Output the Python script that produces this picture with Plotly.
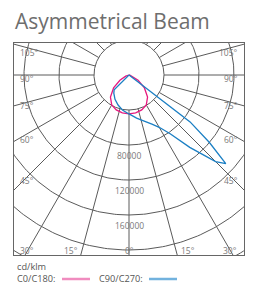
import numpy as np
import plotly.graph_objects as go

# ---------------- data (cd/klm) ----------------
title_text = "Asymmetrical Beam"
unit_text = "cd/klm"
series_names = ["C0/C180:", "C90/C270:"]

pink_angles = [-90, -80, -70, -60, -50, -40, -30, -20, -10, 0, 10, 20, 30, 40, 50, 60, 70, 80, 90]
pink_values = [0, 1000, 4000, 12000, 23000, 33000, 39500, 42500, 44000, 44500,
               44000, 42500, 39500, 33000, 23000, 12000, 4000, 1000, 0]

blue_angles = [-90, -60, -50, -45, -40, -30, -20, -10, 0, 5, 10, 15, 20, 25, 30, 35,
               40, 45, 47.5, 50, 52.5, 55, 60, 90]
blue_values = [0, 0, 0, 24000, 27000, 32000, 36500, 41000, 44500, 47000, 50000, 53000,
               56500, 62000, 69000, 82000, 108000, 140000, 150000, 120000, 88000, 0, 0, 0]

ring_values = [40000, 80000, 120000, 160000, 200000, 240000]
ring_labels = ["80000", "120000", "160000"]
ring_label_values = [80000, 120000, 160000]
spoke_angles = list(range(0, 360, 15))
left_labels = ["105°", "90°", "75°", "60°", "45°"]
right_labels = ["105°", "90°", "75°", "60°", "45°"]
bottom_labels = ["30°", "15°", "0°", "15°", "30°"]

# ---------------- geometry / style ----------------
W, H = 254, 284
L, R, T, B = 14, 10, 43, 29
CX, CY = 129, 75                 # pixel position of the pole
PX_PER_UNIT = 35 / 40000.0
K = 1 / PX_PER_UNIT

xr = [(L - CX) * K, (W - R - CX) * K]
yr = [(CY - (H - B)) * K, (CY - T) * K]

PINK = "#e6197f"
BLUE = "#1b7fc4"
GRID = "#5a5a5a"
TXT = "#7a7a7a"
FONT = "Open Sans"


def to_xy(angles, values):
    a = np.radians(np.asarray(angles, dtype=float))
    v = np.asarray(values, dtype=float)
    return v * np.sin(a), -v * np.cos(a)


fig = go.Figure()

# grid rings
gx, gy = [], []
t = np.linspace(0, 2 * np.pi, 361)
for rv in ring_values:
    gx += list(rv * np.sin(t)) + [None]
    gy += list(-rv * np.cos(t)) + [None]
# spokes start at the inner ring
for ang in spoke_angles:
    x0, y0 = to_xy([ang, ang], [ring_values[0], 400000])
    gx += list(x0) + [None]
    gy += list(y0) + [None]
fig.add_trace(go.Scatter(x=gx, y=gy, mode="lines", line=dict(color=GRID, width=1),
                         hoverinfo="skip", showlegend=False))

px_, py_ = to_xy(pink_angles, pink_values)
fig.add_trace(go.Scatter(x=px_, y=py_, mode="lines", line=dict(color=PINK, width=1.3),
                         name=series_names[0], showlegend=False))
bx_, by_ = to_xy(blue_angles, blue_values)
fig.add_trace(go.Scatter(x=bx_, y=by_, mode="lines", line=dict(color=BLUE, width=1.3),
                         name=series_names[1], showlegend=False))

ann = []
# ring labels
for lab, rv in zip(ring_labels, ring_label_values):
    ann.append(dict(x=0, y=-rv, text=lab, showarrow=False, yanchor="top", yshift=-3,
                    font=dict(family=FONT, size=8.5, color=TXT)))


def pix2data(pxx, pyy):
    return (pxx - CX) * K, (CY - pyy) * K


# side labels (pixel centres)
side_y = [52, 78, 105, 139, 180]
for lab, yy in zip(left_labels, side_y):
    dx, dy = pix2data(18, yy)
    ann.append(dict(x=dx, y=dy, text=lab, showarrow=False, xanchor="left", yanchor="middle",
                    font=dict(family=FONT, size=8.5, color=TXT)))
for lab, yy in zip(right_labels, side_y):
    dx, dy = pix2data(240, yy)
    ann.append(dict(x=dx, y=dy, text=lab, showarrow=False, xanchor="right", yanchor="middle",
                    font=dict(family=FONT, size=8.5, color=TXT)))
bottom_pos = [(18, "left"), (80, "right"), (129.5, "center"), (179, "left"), (239, "right")]
for lab, (xx, anc) in zip(bottom_labels, bottom_pos):
    dx, dy = pix2data(xx, 250)
    ann.append(dict(x=dx, y=dy, text=lab, showarrow=False, xanchor=anc, yanchor="middle",
                    font=dict(family=FONT, size=8.5, color=TXT)))

PW, PH = W - L - R, H - T - B


def px2paper(pxx, pyy):
    return (pxx - L) / PW, (H - B - pyy) / PH


# title
tx, ty = px2paper(13, 21)
ann.append(dict(xref="paper", yref="paper", x=tx, y=ty, text=title_text, showarrow=False,
                xanchor="left", yanchor="middle", font=dict(family=FONT, size=21, color="#6e6e6e")))
# unit + legend texts
for txt, (xx, yy) in zip([unit_text, series_names[0], series_names[1]], [(16, 266.5), (16, 278), (98, 278)]):
    ax_, ay_ = px2paper(xx, yy)
    ann.append(dict(xref="paper", yref="paper", x=ax_, y=ay_, text=txt, showarrow=False, borderpad=0,
                    xanchor="left", yanchor="middle", font=dict(family=FONT, size=9.2, color="#555555")))

shapes = []
for (x0p, x1p), col in zip([(62, 90), (149, 177)], ["#f08cbf", "#72b2de"]):
    a0, yy = px2paper(x0p, 279)
    a1, _ = px2paper(x1p, 279)
    shapes.append(dict(type="line", xref="paper", yref="paper", x0=a0, x1=a1, y0=yy, y1=yy,
                       line=dict(color=col, width=2.5)))

fig.update_layout(
    width=W, height=H, margin=dict(l=L, r=R, t=T, b=B, pad=0),
    paper_bgcolor="white", plot_bgcolor="white",
    annotations=ann, shapes=shapes, showlegend=False,
    xaxis=dict(range=xr, showgrid=False, zeroline=False, showticklabels=False, ticks="",
               showline=True, mirror=True, linecolor="#666666", linewidth=1, fixedrange=True),
    yaxis=dict(range=yr, showgrid=False, zeroline=False, showticklabels=False, ticks="",
               showline=True, mirror=True, linecolor="#666666", linewidth=1, fixedrange=True),
)

fig.write_html("out.html", config={"displayModeBar": False},
               post_script="document.body.style.margin='0';document.body.style.overflow='hidden';")
